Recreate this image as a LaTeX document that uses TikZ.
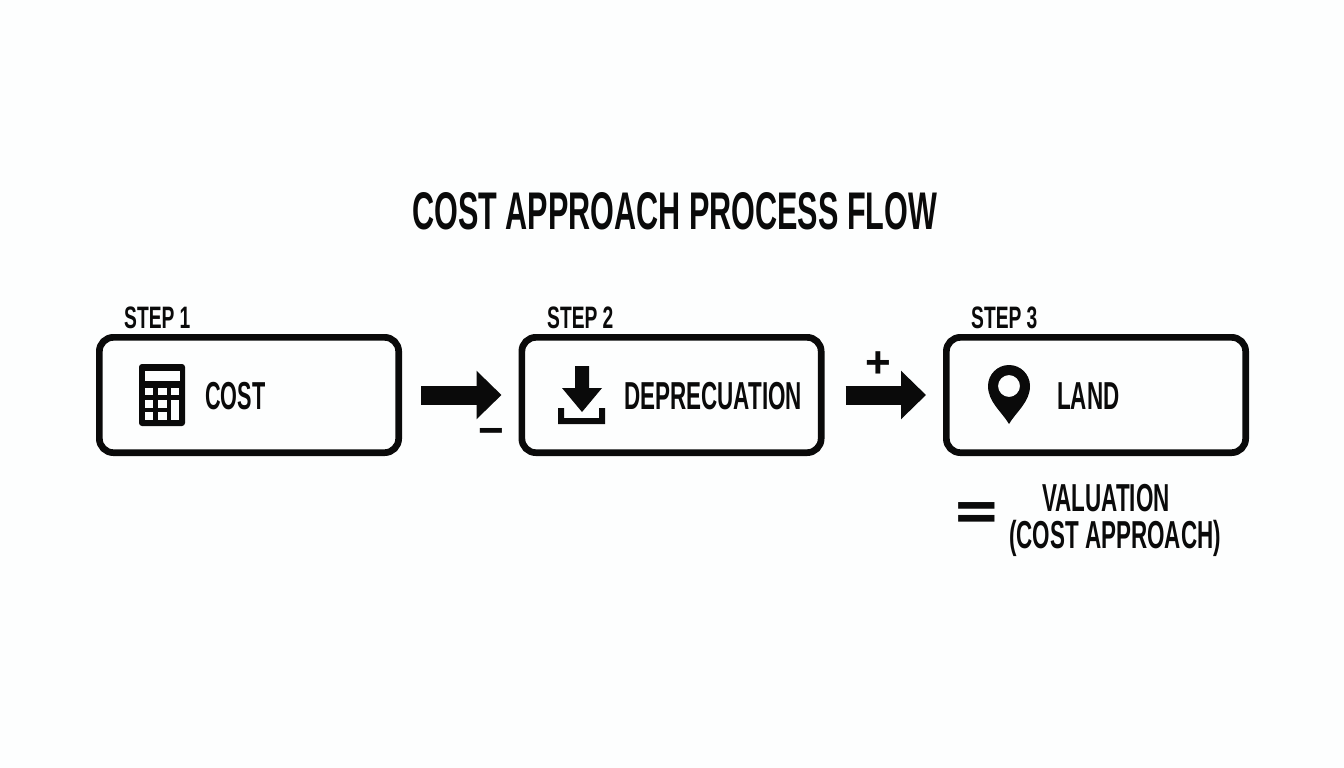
\documentclass[tikz,border=0pt]{standalone}
\usepackage{fontspec}
\usetikzlibrary{arrows.meta}
\newfontfamily\cf{Liberation Sans}[FakeStretch=0.575]
\newfontfamily\cfn{Liberation Sans}[FakeStretch=0.555]
\newfontfamily\cft{Liberation Sans}[FakeStretch=0.577]
\newfontfamily\cfs{Liberation Sans}[FakeStretch=0.62]
\newfontfamily\symf{Liberation Sans}
\newfontfamily\symw{DejaVu Sans}
\definecolor{ink}{HTML}{0A0A0A}
\definecolor{paper}{HTML}{FDFEFE}
\tikzset{
  stepbox/.style={draw=ink,line width=6.7pt,rounded corners=14pt,minimum width=299.3pt,minimum height=115.3pt,inner sep=0pt},
  label/.style={anchor=base west,inner sep=0pt,text=ink,font=\cf\bfseries\fontsize{39}{39}\selectfont},
  narrowlabel/.style={label,font=\cfn\bfseries\fontsize{39}{39}\selectfont},
  steplabel/.style={label,font=\cfs\bfseries\fontsize{31}{31}\selectfont},
  titlelabel/.style={label,font=\cft\bfseries\fontsize{53}{53}\selectfont},
  symbol/.style={anchor=center,inner sep=0pt,text=ink,font=\symf\bfseries\fontsize{44}{44}\selectfont},
  blockarrow/.style={draw=ink,line width=19pt,-{Triangle[length=25pt,width=47pt,fill=ink]}},
}
\begin{document}
\begin{tikzpicture}[x=1pt,y=-1pt]
\fill[paper] (0,0) rectangle (1344,768);
\useasboundingbox (0,0) rectangle (1344,768);
\node[titlelabel] (title) at (412,229) {COST APPROACH PROCESS FLOW};
\node[stepbox] (cost) at (249,395) {};
\node[stepbox] (dep) at (671.5,395) {};
\node[stepbox] (land) at (1096,395) {};
\node[steplabel] (s1) at (124,328) {STEP 1};
\node[steplabel] (s2) at (547,328) {STEP 2};
\node[steplabel] (s3) at (971,328) {STEP 3};
\node[narrowlabel] (tcost) at (205,409) {COST};
\node[label] (tdep) at (624,409) {DEPRECUATION};
\node[label] (tland) at (1057,409) {LAND};
\node[label] (val) at (1042,511) {VALUATION};
\node[label] (ca) at (1009,548) {(COST APPROACH)};
\draw[blockarrow,shorten <=19pt,shorten >=17pt] (cost) -- (dep);
\draw[blockarrow,shorten <=21pt,shorten >=17pt] (dep) -- (land);
\node[symbol] (minus) at (491.5,437) {−};
\node[symbol] (plus) at (878,365) {+};
\node[symbol,font=\symw\bfseries\fontsize{58}{58}\selectfont] (eq) at (977,517) {=};
% calculator
\fill[ink,rounded corners=3pt] (139,364) rectangle (185,426);
\fill[paper] (145,371) rectangle (180,381);
\foreach \xa/\xb in {145/153,158/167,171/179}{
  \foreach \ya/\yb in {388/395,400/408,412/420}{
    \fill[paper] (\xa,\ya) rectangle (\xb,\yb);
  }
}
\fill[paper] (171,400) rectangle (179,420);
% download
\fill[ink] (575,366) -- (589,366) -- (589,388) -- (602,388) -- (582,412) -- (562,388) -- (575,388) -- cycle;
\fill[ink] (558,408) -- (564,408) -- (564,418) -- (599,418) -- (599,408) -- (605,408) -- (605,424) -- (558,424) -- cycle;
% pin
\fill[ink,even odd rule] (1009,424) .. controls (1002,412) and (988,402) .. (988,386)
  arc[start angle=180,end angle=360,radius=21]
  .. controls (1030,402) and (1016,412) .. (1009,424) -- cycle
  (1009,386) circle[radius=11];
\end{tikzpicture}
\end{document}
